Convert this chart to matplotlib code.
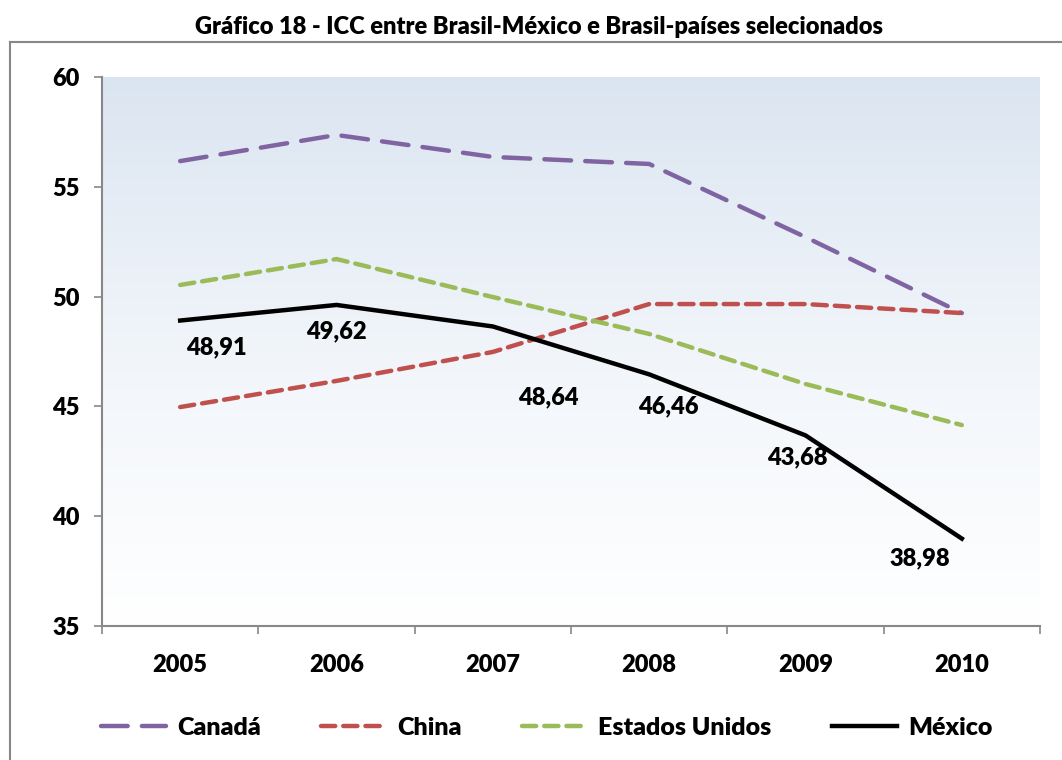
import matplotlib.pyplot as plt
import numpy as np
from matplotlib.lines import Line2D
from matplotlib.colors import LinearSegmentedColormap

plt.rcParams['font.family'] = ['Lato', 'DejaVu Sans']
PESO = 'heavy'

# dados
anos = ['2005', '2006', '2007', '2008', '2009', '2010']
canada = [56.17, 57.36, 56.36, 56.04, 52.71, 49.25]
china = [44.97, 46.16, 47.48, 49.66, 49.66, 49.25]
eua = [50.53, 51.71, 49.98, 48.30, 46.02, 44.15]
mexico = [48.91, 49.62, 48.64, 46.46, 43.68, 38.98]

# deslocamento dos rótulos do México (pontos)
desloc = [(26, -19), (0, -19), (40, -51), (14, -23), (-6, -16), (-30, -14)]

fig = plt.figure(figsize=(10.62, 7.6), dpi=100)
ax = fig.add_axes([102 / 1062, 1 - 626 / 760, 938 / 1062, 549 / 760])

x = np.arange(len(anos))

# fundo em degradê
cmap = LinearSegmentedColormap.from_list('fundo', ['#dbe5f1', '#f1f5fa', '#ffffff'])
grad = np.linspace(0, 1, 256).reshape(-1, 1)
ax.imshow(grad, cmap=cmap, aspect='auto', extent=[-0.5, 5.5, 35, 60],
          origin='upper', zorder=0)

ax.plot(x, canada, color='#8064a2', lw=3.2, dashes=(6, 3.2),
        dash_capstyle='round', label='Canadá', zorder=2)
ax.plot(x, china, color='#c0504d', lw=3.2, dashes=(3.2, 1.8),
        dash_capstyle='round', label='China', zorder=2)
ax.plot(x, eua, color='#9bbb59', lw=3.2, dashes=(3.2, 1.8),
        dash_capstyle='round', label='Estados Unidos', zorder=2)
ax.plot(x, mexico, color='black', lw=3.2, label='México', zorder=3)

for xi, v, d in zip(x, mexico, desloc):
    ax.annotate(f'{v:.2f}'.replace('.', ','), (xi, v), xytext=d,
                textcoords='offset points', ha='center', va='center',
                fontsize=17, fontweight=PESO)

ax.set_xlim(-0.5, 5.5)
ax.set_ylim(35, 60)
ax.set_yticks([35, 40, 45, 50, 55, 60])
ax.set_xticks(x)
ax.set_xticklabels(anos)
ax.set_xticks(np.arange(-0.5, 6, 1), minor=True)
ax.tick_params(axis='x', which='major', length=0, pad=20, labelsize=17)
ax.tick_params(axis='x', which='minor', length=6, color='#888888', width=1.2)
ax.tick_params(axis='y', length=6, color='#888888', width=1.2, pad=10,
               labelsize=17)
for lab in ax.get_xticklabels() + ax.get_yticklabels():
    lab.set_fontweight(PESO)

for s in ['top', 'right']:
    ax.spines[s].set_visible(False)
for s in ['left', 'bottom']:
    ax.spines[s].set_color('#888888')
    ax.spines[s].set_linewidth(1.5)

leg = fig.legend(loc='center', bbox_to_anchor=(0.515, 1 - 728 / 760), ncol=4,
                 frameon=False, fontsize=18, handlelength=2.6,
                 columnspacing=2.4, handletextpad=0.45)
for t in leg.get_texts():
    t.set_fontweight(PESO)

fig.text(0.508, 1 - 27 / 760,
         'Gráfico 18 - ICC entre Brasil-México e Brasil-países selecionados',
         ha='center', va='center', fontsize=17, fontweight=PESO)

# moldura do gráfico
fig.add_artist(Line2D([10 / 1062, 10 / 1062], [0, 1 - 42 / 760],
                      transform=fig.transFigure, color='#888888', lw=1.5))
fig.add_artist(Line2D([10 / 1062, 1], [1 - 42 / 760, 1 - 42 / 760],
                      transform=fig.transFigure, color='#888888', lw=1.5))

fig.savefig('out.png', dpi=100)
